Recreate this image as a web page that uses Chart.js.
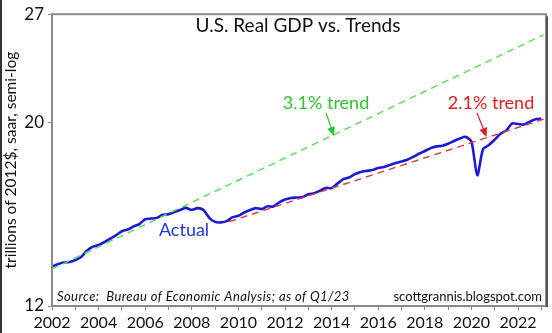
<!DOCTYPE html>
<html>
<head>
<meta charset="utf-8">
<script src="https://cdn.jsdelivr.net/npm/chart.js@4/dist/chart.umd.min.js"></script>
<style>
  html, body { margin: 0; padding: 0; background: #fff; }
  #wrap { width: 552px; height: 333px; position: relative; }
  #wrap::before { content: ''; position: absolute; left: 0; top: 0; width: 2px; height: 333px; background: #333; }
</style>
</head>
<body>
<div id="wrap"><canvas id="gdpChart" width="552" height="333"></canvas></div>
<script>
// Real GDP, trillions of chained 2012$, SAAR, quarterly from 2002 Q1
const startYear = 2002;
const gdp = [
    13.39, 13.48, 13.54, 13.56,   // 2002
    13.63, 13.75, 13.99, 14.15,   // 2003
    14.22, 14.33, 14.47, 14.61,   // 2004
    14.77, 14.84, 14.97, 15.07,   // 2005
    15.27, 15.30, 15.33, 15.46,   // 2006
    15.49, 15.58, 15.67, 15.76,   // 2007
    15.67, 15.75, 15.67, 15.33,   // 2008
    15.16, 15.14, 15.19, 15.36,   // 2009
    15.42, 15.56, 15.67, 15.75,   // 2010
    15.71, 15.83, 15.82, 16.00,   // 2011
    16.13, 16.20, 16.22, 16.24,   // 2012
    16.37, 16.42, 16.53, 16.66,   // 2013
    16.65, 16.86, 17.07, 17.15,   // 2014
    17.31, 17.42, 17.47, 17.51,   // 2015
    17.61, 17.66, 17.76, 17.85,   // 2016
    17.93, 18.02, 18.16, 18.32,   // 2017
    18.46, 18.61, 18.70, 18.73,   // 2018
    18.84, 18.98, 19.11, 19.20,   // 2019
    18.95, 17.26, 18.56, 18.77,   // 2020
    19.06, 19.37, 19.55, 19.93,   // 2021
    19.90, 19.87, 20.03, 20.16,   // 2022
    20.20                          // 2023
];

// trend lines, end points
const trend31Years = [2002, 2023.1];
const trend31 = [13.3, 25.5];
const trend21Years = [2009.6, 2023.1];
const trend21 = [15.17, 20.17];

const yTicks = [12, 20, 27];
const xTickYears = [2002, 2003, 2004, 2005, 2006, 2007, 2008, 2009, 2010, 2011, 2012,
    2013, 2014, 2015, 2016, 2017, 2018, 2019, 2020, 2021, 2022, 2023];

const FONT = 'Lato, "DejaVu Sans", sans-serif';

const gdpPoints = gdp.map((v, i) => ({ x: startYear + i / 4, y: v }));
const t31Points = trend31.map((v, i) => ({ x: trend31Years[i], y: v }));
const t21Points = trend21.map((v, i) => ({ x: trend21Years[i], y: v }));

function arrow(ctx, x1, y1, x2, y2, color) {
    const ang = Math.atan2(y2 - y1, x2 - x1);
    ctx.strokeStyle = color;
    ctx.fillStyle = color;
    ctx.lineWidth = 1.2;
    ctx.beginPath();
    ctx.moveTo(x1, y1);
    ctx.lineTo(x2 - 6 * Math.cos(ang), y2 - 6 * Math.sin(ang));
    ctx.stroke();
    ctx.beginPath();
    ctx.moveTo(x2, y2);
    ctx.lineTo(x2 - 9 * Math.cos(ang) + 4 * Math.sin(ang), y2 - 9 * Math.sin(ang) - 4 * Math.cos(ang));
    ctx.lineTo(x2 - 9 * Math.cos(ang) - 4 * Math.sin(ang), y2 - 9 * Math.sin(ang) + 4 * Math.cos(ang));
    ctx.closePath();
    ctx.fill();
}

const decorations = {
    id: 'decorations',
    afterDraw(chart) {
        const ctx = chart.ctx;
        const a = chart.chartArea;
        const xs = chart.scales.x;
        const ys = chart.scales.y;
        ctx.save();

        // frame
        ctx.strokeStyle = '#8a8a8a';
        ctx.lineWidth = 2;
        ctx.strokeRect(a.left, a.top, a.right - a.left, a.bottom - a.top);
        ctx.strokeStyle = '#555';
        ctx.beginPath();
        ctx.moveTo(a.right + 1, a.top + 2);
        ctx.lineTo(a.right + 1, a.bottom + 1);
        ctx.stroke();

        ctx.textBaseline = 'middle';
        ctx.textAlign = 'center';

        ctx.fillStyle = '#111';
        ctx.font = '19px ' + FONT;
        ctx.fillText('U.S. Real GDP vs. Trends', 298, 26);

        ctx.fillStyle = '#2fc42f';
        ctx.font = '18px ' + FONT;
        ctx.fillText('3.1% trend', 326, 103);
        arrow(ctx, 326, 113, xs.getPixelForValue(2014.1), ys.getPixelForValue(19.25), '#2fc42f');

        ctx.fillStyle = '#e02020';
        ctx.fillText('2.1% trend', 491, 103);
        arrow(ctx, 477, 113, xs.getPixelForValue(2020.65), ys.getPixelForValue(19.2), '#e02020');

        ctx.fillStyle = '#2233dd';
        ctx.fillText('Actual', 184, 230);

        ctx.fillStyle = '#111';
        ctx.textAlign = 'left';
        ctx.font = 'italic 13px ' + FONT;
        ctx.letterSpacing = '0.4px';
        ctx.fillText('Source:  Bureau of Economic Analysis; as of Q1/23', 57, 297);
        ctx.letterSpacing = '0px';
        ctx.textAlign = 'right';
        ctx.font = '13px ' + FONT;
        ctx.fillText('scottgrannis.blogspot.com', 542, 297);
        ctx.restore();
    }
};

const chartElement = document.getElementById('gdpChart');

new Chart(chartElement.getContext('2d'), {
    type: 'line',
    data: {
        datasets: [{
            label: 'Actual',
            data: gdpPoints,
            borderColor: '#1b1bd6',
            borderWidth: 2.6,
            pointRadius: 0,
            tension: 0.25,
            order: 2
        }, {
            label: '3.1% trend',
            data: t31Points,
            borderColor: '#55dd55',
            borderWidth: 1.4,
            borderDash: [7, 5],
            pointRadius: 0,
            order: 1
        }, {
            label: '2.1% trend',
            data: t21Points,
            borderColor: '#e03a3a',
            borderWidth: 1.4,
            borderDash: [7, 5],
            pointRadius: 0,
            order: 1
        }]
    },
    options: {
        responsive: false,
        animation: false,
        layout: { padding: { top: 11, right: 6, left: 0, bottom: 0 } },
        plugins: {
            legend: { display: false },
            tooltip: { enabled: false }
        },
        scales: {
            x: {
                type: 'linear',
                min: 2002,
                max: 2023.2,
                afterBuildTicks: s => { s.ticks = xTickYears.map(v => ({ value: v })); },
                afterFit: s => { s.height = 27; },
                ticks: {
                    autoSkip: false,
                    maxRotation: 0,
                    padding: 3,
                    color: '#111',
                    font: { family: FONT, size: 16 },
                    callback: v => (v % 2 === 0 ? String(v) : '')
                },
                grid: { drawOnChartArea: false, tickLength: 4, color: '#8a8a8a' },
                border: { display: false }
            },
            y: {
                type: 'logarithmic',
                min: 12,
                max: 27,
                afterBuildTicks: s => { s.ticks = yTicks.map(v => ({ value: v })); },
                afterFit: s => { s.width = 52; },
                ticks: {
                    padding: 4,
                    color: '#111',
                    font: { family: FONT, size: 17 },
                    callback: v => String(v)
                },
                grid: { drawOnChartArea: false, tickLength: 4, color: '#8a8a8a' },
                border: { display: false },
                title: {
                    display: true,
                    text: 'trillions of 2012$, saar, semi-log',
                    color: '#111',
                    font: { family: FONT, size: 15.5 },
                    padding: { top: 2, bottom: 0 }
                }
            }
        }
    },
    plugins: [decorations]
});
</script>
</body>
</html>
